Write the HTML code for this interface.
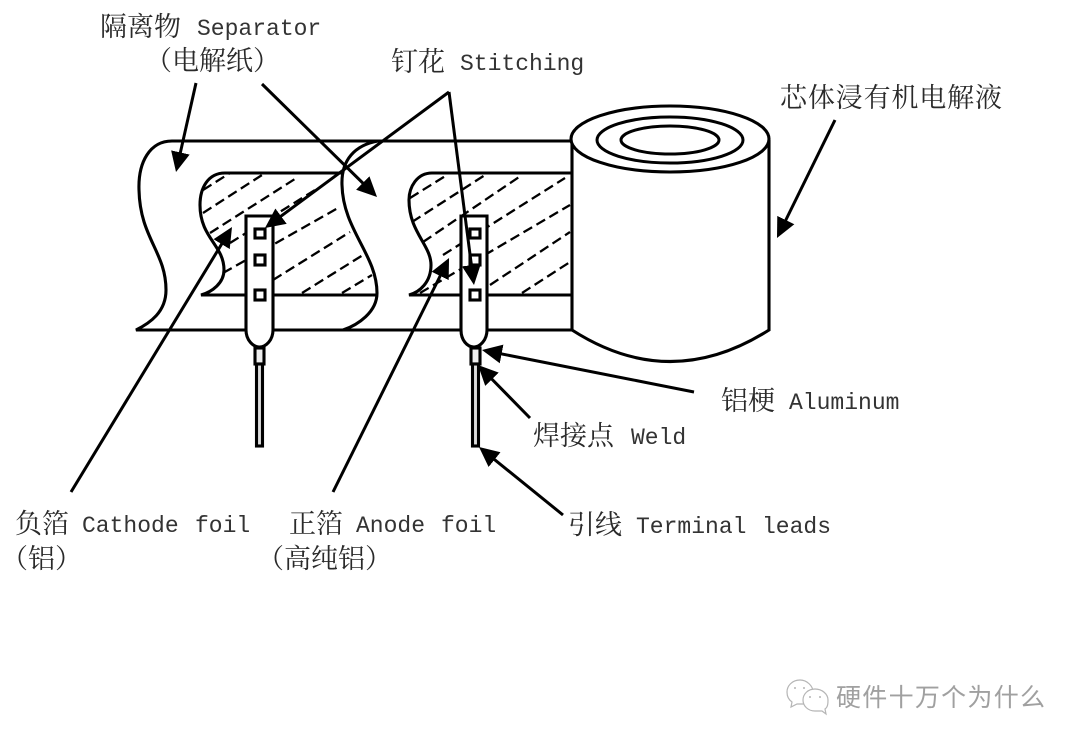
<!DOCTYPE html>
<html><head><meta charset="utf-8"><style>
html,body{margin:0;padding:0;background:#fff;width:1080px;height:745px;overflow:hidden}
svg{display:block}
.c{font-family:"Liberation Serif","Noto Serif CJK SC",serif;font-size:27px;fill:#2a2a2a}
.l{font-family:"Liberation Mono","Liberation Serif",monospace;font-size:23px;fill:#333}
.w{font-family:"Liberation Sans","Noto Sans CJK SC",sans-serif;font-size:25px;fill:#a0a0a0}
</style></head><body>
<svg width="1080" height="745" viewBox="0 0 1080 745" xmlns="http://www.w3.org/2000/svg">
<defs><marker id="a" markerUnits="userSpaceOnUse" markerWidth="24" markerHeight="22" refX="10" refY="9.5" orient="auto"><path d="M0,0L20,9.5L0,19Z" fill="#000"/></marker></defs>
<rect width="1080" height="745" fill="#fff"/>
<g fill="none" stroke="#000" stroke-width="2.3" stroke-dasharray="10 5">
<path d="M203,190L230,173M203,213L262,175M210,233L298,177M230,243L315,190M223,273L338,208M273,280L350,232M302,293L363,255M342,293L372,275"/>
<path d="M410,198L447,175M412,222L485,175M423,242L522,175M443,255L565,178M420,293L570,205M490,285L570,232M522,293L570,262"/>
</g>
<g fill="none" stroke="#000" stroke-width="3.1">
<path d="M572,141H172C150,141 138,162 139,190C140,238 166,252 166,290C166,312 150,323 136,330H572"/>
<path d="M378,141C355,145 341,160 342,185C343,230 377,255 377,293C377,312 358,325 343,330"/>
<path d="M342,173H225C208,173 200,188 200,205C200,238 224,245 224,270C224,283 212,292 201,295H377"/>
<path d="M572,173H432C417,173 409,187 409,200C409,232 431,245 431,265C431,282 420,292 409,295H572"/>
</g>
<g fill="#fff" stroke="#000" stroke-width="3.1">
<path d="M246,216H273V330C273,340 266,347 259.500,347C253,347 246,340 246,330Z"/>
<path d="M461,216H487V330C487,340 480,347 474,347C467,347 461,340 461,330Z"/>
<rect x="255" y="229" width="10" height="9"/><rect x="255" y="255" width="10" height="10"/><rect x="255" y="290" width="10" height="10"/>
<rect x="470" y="229" width="10" height="9"/><rect x="470" y="255" width="10" height="10"/><rect x="470" y="290" width="10" height="10"/>
<rect x="255" y="348" width="9" height="16" fill="#eee"/><rect x="256.500" y="364" width="6" height="82" fill="#ddd"/>
<rect x="471" y="348" width="9" height="16" fill="#eee"/><rect x="472.500" y="364" width="6" height="82" fill="#ddd"/>
<path d="M572,140V330Q670,393 769,330V140"/>
<ellipse cx="670" cy="139" rx="99" ry="33"/>
</g>
<g fill="none" stroke="#000" stroke-width="3">
<ellipse cx="670" cy="140" rx="73" ry="23"/>
<ellipse cx="670" cy="140" rx="49" ry="14"/>
</g>
<g stroke="#000" stroke-width="3" fill="none">
<line x1="196" y1="83" x2="178.200" y2="162.200" marker-end="url(#a)"/>
<line x1="262" y1="84" x2="369.900" y2="190" marker-end="url(#a)"/>
<line x1="449" y1="92" x2="273" y2="222.100" marker-end="url(#a)"/>
<line x1="449" y1="92" x2="472.700" y2="275.100" marker-end="url(#a)"/>
<line x1="71" y1="492" x2="226.800" y2="235.600" marker-end="url(#a)"/>
<line x1="333" y1="492" x2="444.600" y2="267" marker-end="url(#a)"/>
<line x1="835" y1="120" x2="781.400" y2="229" marker-end="url(#a)"/>
<line x1="694" y1="392" x2="491.800" y2="352" marker-end="url(#a)"/>
<line x1="530" y1="418" x2="485" y2="372.100" marker-end="url(#a)"/>
<line x1="563" y1="515" x2="486.800" y2="453.300" marker-end="url(#a)"/>
</g>
<text class="c" x="100" y="36">隔离物</text><text class="l" x="197" y="35">Separator</text>
<text class="c" x="145" y="70">（电解纸）</text>
<text class="c" x="391" y="71">钉花</text><text class="l" x="460" y="70">Stitching</text>
<text class="c" x="780" y="107" textLength="222">芯体浸有机电解液</text>
<text class="c" x="721" y="410">铝梗</text><text class="l" x="789" y="409">Aluminum</text>
<text class="c" x="533" y="445">焊接点</text><text class="l" x="631" y="444">Weld</text>
<text class="c" x="568" y="534">引线</text><text class="l" x="636" y="533">Terminal</text><text class="l" x="762" y="533">leads</text>
<text class="c" x="15" y="533">负箔</text><text class="l" x="82" y="532">Cathode</text><text class="l" x="195" y="532">foil</text>
<text class="c" x="1" y="568">（铝）</text>
<text class="c" x="289" y="533">正箔</text><text class="l" x="356" y="532">Anode</text><text class="l" x="441" y="532">foil</text>
<text class="c" x="257" y="568">（高纯铝）</text>
<g fill="#fff" stroke="#b5b5b5" stroke-width="1.2">
<path d="M800,680C792,680 787,686 787,692C787,697 789,700 792,702L791,707L797,704L804,704C810,702 813,698 813,692C813,686 807,680 800,680Z"/>
<path d="M815,689C808,689 803,694 803,700C803,706 808,711 815,711L822,711L826,714L825,709C828,707 828,703 828,700C828,694 822,689 815,689Z"/>
</g>
<g fill="#b5b5b5"><circle cx="795" cy="688" r="1"/><circle cx="804" cy="688" r="1"/><circle cx="810" cy="697" r="1"/><circle cx="820" cy="697" r="1"/></g>
<text class="w" x="836" y="706" textLength="209">硬件十万个为什么</text>
</svg>
</body></html>
